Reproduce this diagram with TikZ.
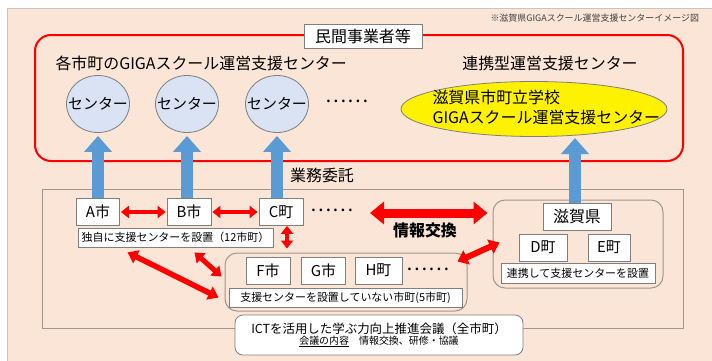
\documentclass[tikz,border=0pt]{standalone}
\usepackage{fontspec}
\setmainfont{Noto Sans CJK JP}
\usepackage{xcolor}
\usepackage{tikz}
\usetikzlibrary{arrows.meta,shapes.geometric,positioning}
\definecolor{peach}{HTML}{FBE5D6}
\definecolor{arrblue}{HTML}{5B9BD5}
\definecolor{ctrblue}{HTML}{DAE3F3}
\definecolor{boxgray}{HTML}{7F7F7F}
\definecolor{grpgray}{HTML}{A0968F}
\newcommand{\szL}{\fontsize{16}{19}\selectfont}
\newcommand{\szM}{\fontsize{15}{17}\selectfont}
\newcommand{\szS}{\fontsize{11}{12}\selectfont}

\begin{document}
\begin{tikzpicture}[x=1bp,y=-1bp,
  box/.style={draw=boxgray,fill=white,line width=0.8bp,inner sep=2bp},
  city/.style={box,font=\szM,minimum width=44bp,minimum height=27bp},
  memo/.style={box,font=\szS,minimum height=19bp},
  grp/.style={draw=grpgray,line width=1bp,rounded corners=12bp},
  ctr/.style={ellipse,draw=boxgray,fill=ctrblue,line width=0.8bp,inner xsep=-8bp,inner ysep=0pt,
    minimum width=63bp,minimum height=57bp,font=\fontsize{15}{17}\selectfont},
  uparrow/.style={draw=arrblue,line width=12bp,-{Triangle[width=27bp,length=16bp]}},
  dblarrow/.style={draw=red,line width=4.5bp,
    {Triangle[width=12bp,length=8bp]}-{Triangle[width=12bp,length=8bp]}},
  bigarrow/.style={draw=red,line width=9bp,
    {Triangle[width=22bp,length=14bp]}-{Triangle[width=22bp,length=14bp]}},
  dots/.style={font=\fontsize{20}{20}\selectfont}]
\useasboundingbox (0,0) rectangle (712,360);
\fill[white] (0,0) rectangle (712,360);
\draw[fill=peach,draw=gray!45] (7,8) rectangle (714,362);
\node[anchor=west,font=\fontsize{9}{10}\selectfont,text=black!75] (imgnote) at (487,18) {※滋賀県GIGAスクール運営支援センターイメージ図};

% private operators
\draw[red,line width=2bp,rounded corners=16bp] (35,35) rectangle (683,161);
\node[box,font=\szL,minimum width=118bp,minimum height=24bp] (minkan) at (363,36) {民間事業者等};
\node[anchor=west,font=\szL] (eachhead) at (52,63) {各市町のGIGAスクール運営支援センター};
\node[font=\szL] (renkeihead) at (550,63) {連携型運営支援センター};

\node[ctr] (ca) at (98,104) {センター};
\node[ctr] (cb) at (187,104) {センター};
\node[ctr] (cc) at (277,104) {センター};
\node[dots] (cdots) at (347,101) {……};
\node[ellipse,draw=boxgray,fill=yellow,line width=0.8bp,minimum width=266bp,minimum height=55bp] (shigactr) at (534,109) {};
\node[anchor=west,align=left,font=\fontsize{16}{20}\selectfont] (shigactrtxt) at (429,107) {滋賀県市町立学校\\GIGAスクール運営支援センター};

% municipalities
\draw[draw=grpgray,line width=1bp] (42,189) rectangle (683,328);
\node[font=\szL] (itaku) at (322,175) {業務委託};

\node[city,minimum width=43bp] (a) at (98,212) {A市};
\node[city] (b) at (189,212) {B市};
\node[city] (c) at (281,212) {C町};
\node[dots] (rowdots) at (332,210) {……};
\node[memo,minimum width=195bp] (dokuji) at (175.5,237.5) {独自に支援センターを設置（12市町）};

\node[grp,minimum width=242bp,minimum height=58bp] (fgrp) at (346,282) {};
\node[city] (f) at (268,270.5) {F市};
\node[city] (g) at (323.5,270.5) {G市};
\node[city,minimum width=47bp] (h) at (378.5,270.5) {H町};
\node[dots] (fdots) at (428,269) {……};
\node[memo,minimum width=233bp] (nashi) at (345.5,297.5) {支援センターを設置していない市町(5市町)};

\node[grp,minimum width=170bp,minimum height=88bp] (shgrp) at (578,244) {};
\node[city,font=\szL,minimum width=68bp] (shiga) at (577,216.5) {滋賀県};
\node[city,minimum width=48bp] (d) at (543,247.5) {D町};
\node[city,minimum width=42bp] (e) at (609,247.5) {E町};
\node[memo,minimum width=154bp,minimum height=20bp] (renkei) at (578,273) {連携して支援センターを設置};

\node[box,rounded corners=8bp,align=center,minimum width=288bp,minimum height=40bp,inner sep=1bp] (ict) at (379,335)
  {\fontsize{12.5}{17}\selectfont ICTを活用した学ぶ力向上推進会議（全市町）\\[-1bp]
   \fontsize{10}{12}\selectfont\underline{会議の内容}\quad 情報交換、研修・協議};

% entrusting arrows
\draw[uparrow] (ca.south |- a.north) -- ([yshift=-3bp]ca.south);
\draw[uparrow] (cb.south |- b.north) -- ([yshift=-3bp]cb.south);
\draw[uparrow] (cc.south |- c.north) -- ([yshift=-3bp]cc.south);
\draw[uparrow] ([xshift=-2bp]shiga.north) -- ([xshift=-2bp]shiga.north |- 0,138);

% information exchange
\draw[dblarrow,shorten <=1bp,shorten >=1bp] (a) -- (b);
\draw[dblarrow,shorten <=1bp,shorten >=1bp] (b) -- (c);
\draw[dblarrow,line width=4bp] ([xshift=6bp]c.south) -- ([xshift=6bp,yshift=4bp]c.south |- fgrp.north);
\coordinate (xchg) at (370,213);
\draw[bigarrow,shorten >=5bp] (xchg) -- (xchg -| shgrp.west);
\node[font=\szL\bfseries] (xchgtxt) at (425,230) {情報交換};
\draw[dblarrow,line width=6bp,{Triangle[width=15bp,length=10bp]}-{Triangle[width=15bp,length=10bp]}]
  ([xshift=-10bp,yshift=-9bp]fgrp.north east) -- ([xshift=7bp,yshift=-43bp]shgrp.north west);
\draw[dblarrow,line width=5.5bp,{Triangle[width=14bp,length=10bp]}-{Triangle[width=14bp,length=10bp]}]
  ([xshift=-48bp,yshift=-5bp]dokuji.south) -- ([xshift=-6bp,yshift=-45bp]fgrp.north west);
\draw[dblarrow,line width=5bp,{Triangle[width=13bp,length=9bp]}-{Triangle[width=13bp,length=9bp]}]
  ([xshift=19bp,yshift=-5bp]dokuji.south) -- ([xshift=-3bp,yshift=-24bp]fgrp.north west);
\end{tikzpicture}
\end{document}
